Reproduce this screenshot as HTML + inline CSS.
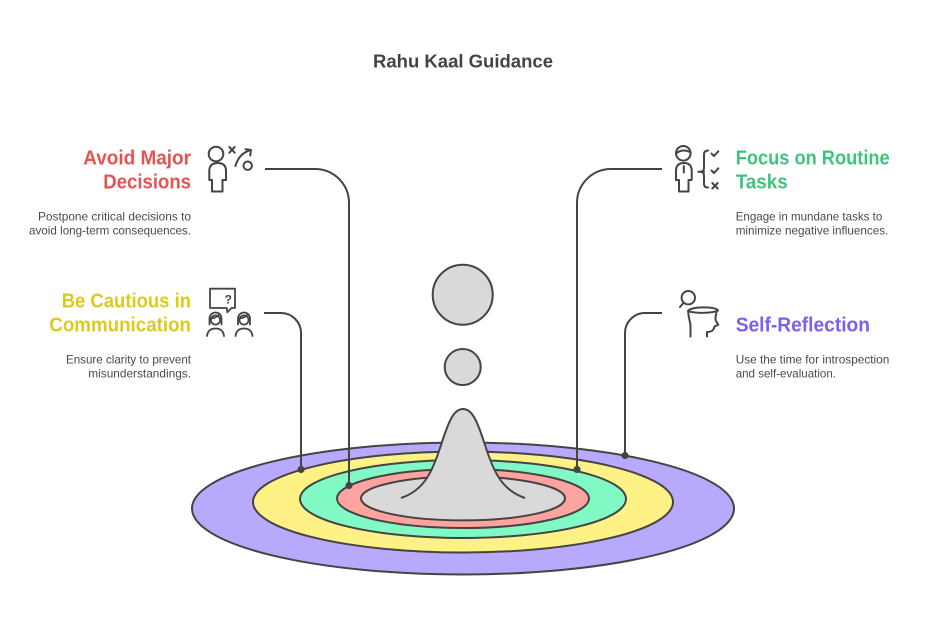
<!DOCTYPE html>
<html>
<head>
<meta charset="utf-8">
<style>
  html, body { margin: 0; padding: 0; background: #ffffff; }
  body { width: 926px; height: 624px; overflow: hidden; }
  svg { display: block; }
  text { font-family: "Liberation Sans", Arial, sans-serif; }
  .h { font-weight: bold; font-size: 20px; }
  .d { font-size: 12px; fill: #4a4a4a; }
</style>
</head>
<body>
<svg width="926" height="624" viewBox="0 0 926 624" xmlns="http://www.w3.org/2000/svg">
  <rect x="0" y="0" width="926" height="624" fill="#ffffff"/>

  <!-- Title -->
  <text x="463" y="67.7" text-anchor="middle" font-size="18" font-weight="bold" fill="#444" textLength="180" lengthAdjust="spacingAndGlyphs">Rahu Kaal Guidance</text>

  <!-- Ellipses -->
  <g stroke="#444" stroke-width="2">
    <ellipse cx="463" cy="508.5" rx="271" ry="66" fill="#B9A9FC"/>
    <ellipse cx="463" cy="502" rx="210" ry="50.5" fill="#FEF185"/>
    <ellipse cx="463" cy="499" rx="163" ry="39" fill="#80F9C5"/>
    <ellipse cx="463" cy="498.5" rx="126" ry="29.5" fill="#FDA3A0"/>
    <ellipse cx="463" cy="498.4" rx="102" ry="22" fill="#D9D9D9"/>
  </g>

  <!-- Bell -->
  <path d="M401,498 C425,490 433,470 441,445 C449,420 454,409 463,409 C472,409 477,420 485,445 C493,470 501,490 525,498 Z" fill="#D9D9D9" stroke="none"/>
  <path d="M401,498 C425,490 433,470 441,445 C449,420 454,409 463,409 C472,409 477,420 485,445 C493,470 501,490 525,498" fill="none" stroke="#444" stroke-width="2"/>

  <!-- Circles -->
  <circle cx="462.7" cy="294.7" r="30" fill="#D9D9D9" stroke="#444" stroke-width="2"/>
  <circle cx="462.7" cy="367" r="18" fill="#D9D9D9" stroke="#444" stroke-width="2"/>

  <!-- Connectors -->
  <g fill="none" stroke="#444" stroke-width="2">
    <path d="M265,169 H315 A34,34 0 0 1 349,203 V485"/>
    <path d="M264,313 H281 A20,20 0 0 1 301,333 V469"/>
    <path d="M662,169 H611 A34,34 0 0 0 577,203 V469"/>
    <path d="M662,313 H645 A20,20 0 0 0 625,333 V455"/>
  </g>
  <g fill="#444">
    <circle cx="349" cy="485.5" r="3.6"/>
    <circle cx="301" cy="469.5" r="3.6"/>
    <circle cx="577" cy="469.5" r="3.6"/>
    <circle cx="625" cy="455.5" r="3.6"/>
  </g>

  <!-- Left texts -->
  <text class="h" x="191" y="164.3" text-anchor="end" fill="#E55451" textLength="107.7" lengthAdjust="spacingAndGlyphs">Avoid Major</text>
  <text class="h" x="191" y="188.3" text-anchor="end" fill="#E55451" textLength="87.7" lengthAdjust="spacingAndGlyphs">Decisions</text>
  <text class="d" x="191" y="220.5" text-anchor="end" textLength="153" lengthAdjust="spacingAndGlyphs">Postpone critical decisions to</text>
  <text class="d" x="191" y="234.5" text-anchor="end" textLength="162" lengthAdjust="spacingAndGlyphs">avoid long-term consequences.</text>

  <text class="h" x="191" y="307.5" text-anchor="end" fill="#DCCB1C" textLength="129.3" lengthAdjust="spacingAndGlyphs">Be Cautious in</text>
  <text class="h" x="191" y="331.7" text-anchor="end" fill="#DCCB1C" textLength="141.7" lengthAdjust="spacingAndGlyphs">Communication</text>
  <text class="d" x="191" y="363.3" text-anchor="end" textLength="125" lengthAdjust="spacingAndGlyphs">Ensure clarity to prevent</text>
  <text class="d" x="191" y="377.3" text-anchor="end" textLength="102.7" lengthAdjust="spacingAndGlyphs">misunderstandings.</text>

  <!-- Right texts -->
  <text class="h" x="735.7" y="164.3" fill="#3EC47F" textLength="154" lengthAdjust="spacingAndGlyphs">Focus on Routine</text>
  <text class="h" x="735.7" y="188.3" fill="#3EC47F" textLength="52" lengthAdjust="spacingAndGlyphs">Tasks</text>
  <text class="d" x="735.7" y="220.5" textLength="146.6" lengthAdjust="spacingAndGlyphs">Engage in mundane tasks to</text>
  <text class="d" x="735.7" y="234.5" textLength="152.6" lengthAdjust="spacingAndGlyphs">minimize negative influences.</text>

  <text class="h" x="735.7" y="331.7" fill="#7D5FEB" textLength="134.3" lengthAdjust="spacingAndGlyphs">Self-Reflection</text>
  <text class="d" x="735.7" y="363.3" textLength="153.6" lengthAdjust="spacingAndGlyphs">Use the time for introspection</text>
  <text class="d" x="735.7" y="377.3" textLength="100.3" lengthAdjust="spacingAndGlyphs">and self-evaluation.</text>

  <!-- Icon 1: Avoid Major Decisions -->
  <g fill="none" stroke="#444" stroke-width="2" stroke-linecap="round" stroke-linejoin="round">
    <circle cx="216" cy="154" r="7.3"/>
    <path d="M212,191.5 V180 H209.3 V171 Q209.3,163 217.7,163 Q226,163 226,171 V180 H222.5 V191.5 Z"/>
    <path d="M229.3,147 L234.7,152.7 M234.7,147 L229.3,152.7"/>
    <path d="M235.5,166 Q239,153 251,150"/>
    <path d="M245.5,149.3 L251,150 L250.2,155.5"/>
    <circle cx="247.7" cy="165.7" r="4.2"/>
  </g>

  <!-- Icon 2: Communication -->
  <g fill="none" stroke="#444" stroke-width="1.8" stroke-linecap="round" stroke-linejoin="round">
    <path d="M210,288.7 H235 V308 H231.5 L227.3,312.3 L226.8,308 H210 Z"/>
    <path d="M209.5,324.5 V318.5 A6,6 0 0 1 221.5,318.5 V324.5"/>
    <circle cx="215.5" cy="320" r="4.6"/>
    <path d="M211,318.5 Q216.5,318 219.5,314"/>
    <path d="M207,336 Q208,328.5 215.5,328.5 Q223,328.5 224,336"/>
    <path d="M238,324.5 V318.5 A6,6 0 0 1 250,318.5 V324.5"/>
    <circle cx="244" cy="320" r="4.6"/>
    <path d="M239.5,318.5 Q245,318 248,314"/>
    <path d="M235.5,336 Q236.5,328.5 244,328.5 Q251.5,328.5 252.5,336"/>
  </g>
  <text x="228.3" y="303.5" text-anchor="middle" font-size="12" font-weight="bold" fill="#444">?</text>

  <!-- Icon 3: Focus on Routine Tasks -->
  <g fill="none" stroke="#444" stroke-width="2" stroke-linecap="round" stroke-linejoin="round">
    <circle cx="683.3" cy="153.3" r="7.3"/>
    <path d="M676.5,153 Q683,148.5 690,152"/>
    <path d="M679,191.5 V180 H676 V171 Q676,163 684,163 Q691.7,163 691.7,171 V180 H688.5 V191.5 Z"/>
    <path d="M683.8,166 V172.5"/>
    <path d="M698.3,171.7 H704"/>
    <path d="M708,150.5 Q704,150.5 704,154.5 V168 Q704,171.7 700.5,171.7 Q704,171.7 704,175.5 V184 Q704,187.5 708,187.5"/>
    <path d="M711.5,153.5 L714,156 L718.3,151.3"/>
    <path d="M711.5,170.5 L714,173 L718.3,168.3"/>
    <path d="M712.3,183 L717.7,188.5 M717.7,183 L712.3,188.5"/>
  </g>

  <!-- Icon 4: Self-Reflection -->
  <g fill="none" stroke="#444" stroke-width="2" stroke-linecap="round" stroke-linejoin="round">
    <circle cx="688.3" cy="297.7" r="6.7"/>
    <path d="M683.8,302.5 L680,307"/>
    <path d="M688,311 C690,306.5 716,306 718,310.5"/>
    <path d="M688,311 C694,313.5 712,313.5 718,310.5"/>
    <path d="M716.5,312 C716,316 714.5,318 716,321 L718.3,324.7 L714.5,326.5 C713.5,330.5 711.5,332 707,332 V336.5"/>
    <path d="M688.3,312 C688.3,318 690.5,322 690.5,326 V336.5"/>
  </g>
</svg>
</body>
</html>
